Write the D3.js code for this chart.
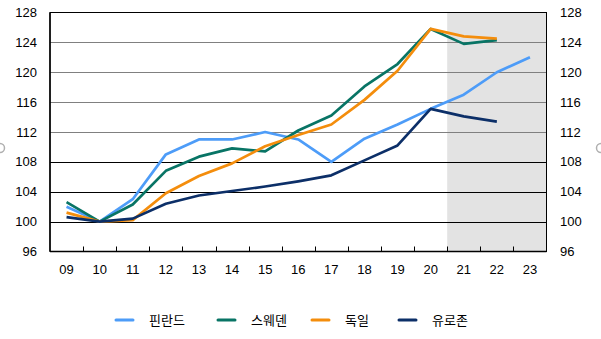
<!DOCTYPE html>
<html><head><meta charset="utf-8">
<script src="https://cdn.jsdelivr.net/npm/d3@7"></script>
<style>body{margin:0;background:#fff;}svg{display:block;}</style>
</head><body>
<svg id="c" width="601" height="339"></svg>
<script>
const categories = ["09","10","11","12","13","14","15","16","17","18","19","20","21","22","23"];
const finland  = [102.0,100,103.0,109.0,111.0,111.0,112.0,111.0,108.0,111.1,113.0,115.1,117.0,120.0,122.0];
const sweden   = [102.6,100,102.3,106.8,108.7,109.8,109.4,112.2,114.2,118.1,121.1,125.8,123.8,124.3,null];
const germany  = [101.2,100,100.2,103.8,106.1,107.8,110.1,111.6,113.0,116.3,120.2,125.8,124.8,124.5,null];
const eurozone = [100.6,100,100.4,102.4,103.5,104.1,104.7,105.4,106.2,108.2,110.2,115.1,114.1,113.4,null];
const yTicks = [96,100,104,108,112,116,120,124,128];
const seriesNames = ["핀란드","스웨덴","독일","유로존"];
const seriesColors = ["#4d9cf8","#087465","#f48d0c","#0c2f68"];
const seriesData = [finland, sweden, germany, eurozone];
const shadedFrom = "21";

const svg = d3.select("#c");
const L=50, R=546.5, T=12.5, B=251.5;
const x = d3.scaleBand().domain(categories).range([L,R]);
const y = d3.scaleLinear().domain([96,128]).range([B,T]);
const font = "'Liberation Sans', Arial, sans-serif";

// shaded forecast area
svg.append("rect").attr("x", x(shadedFrom)).attr("y", T)
  .attr("width", R - x(shadedFrom)).attr("height", B-T).attr("fill","#e3e3e3");

// grid lines
yTicks.filter(v=>v>96 && v<128).forEach(v=>{
  svg.append("line").attr("x1",L).attr("x2",R).attr("y1",Math.round(y(v))+0.5).attr("y2",Math.round(y(v))+0.5)
    .attr("stroke", v>=112 ? "#808080" : "#000").attr("stroke-width",1);
});

// frame
svg.append("rect").attr("x",L).attr("y",T).attr("width",R-L).attr("height",B-T)
  .attr("fill","none").attr("stroke","#000").attr("stroke-width",1);
svg.append("line").attr("x1",L).attr("x2",L).attr("y1",T).attr("y2",B).attr("stroke","#000").attr("stroke-width",1.5);
svg.append("line").attr("x1",L).attr("x2",R).attr("y1",B).attr("y2",B).attr("stroke","#000").attr("stroke-width",1.5);

// x ticks (at category boundaries, pointing up)
categories.slice(1).forEach(c=>{
  const xx = Math.round(x(c))+0.5;
  svg.append("line").attr("x1",xx).attr("x2",xx).attr("y1",B).attr("y2",B-5).attr("stroke","#000");
});

// x labels
categories.forEach(c=>{
  svg.append("text").attr("x", x(c)+x.bandwidth()/2).attr("y", 274)
    .attr("text-anchor","middle").attr("font-family",font).attr("font-size",13).attr("fill","#000").text(c);
});

// y labels left and right
yTicks.forEach(v=>{
  svg.append("text").attr("x",37).attr("y",y(v)+4.5).attr("text-anchor","end")
    .attr("font-family",font).attr("font-size",13).attr("fill","#000").text(v);
  svg.append("text").attr("x",560).attr("y",y(v)+4.5).attr("text-anchor","start")
    .attr("font-family",font).attr("font-size",13).attr("fill","#000").text(v);
});

// lines
const line = d3.line().defined(d=>d.v!=null).x(d=>x(d.c)+x.bandwidth()/2).y(d=>y(d.v));
seriesData.forEach((s,i)=>{
  svg.append("path").datum(categories.map((c,j)=>({c, v:s[j]})))
    .attr("d", line).attr("fill","none").attr("stroke",seriesColors[i])
    .attr("stroke-width",2.7).attr("stroke-linejoin","round").attr("stroke-linecap","butt");
});

// legend
const legX = [116, 218, 312, 399];
seriesNames.forEach((n,i)=>{
  svg.append("line").attr("x1",legX[i]).attr("x2",legX[i]+17).attr("y1",320).attr("y2",320)
    .attr("stroke",seriesColors[i]).attr("stroke-width",3).attr("stroke-linecap","round");
  svg.append("text").attr("x",legX[i]+33).attr("y",325).attr("font-family","'Noto Sans CJK KR', sans-serif")
    .attr("font-size",13).attr("fill","#000").text(n);
});

// edge handles
svg.append("circle").attr("cx",0).attr("cy",148).attr("r",4.5).attr("fill","none").attr("stroke","#b0b0b0").attr("stroke-width",1.5);
svg.append("circle").attr("cx",601).attr("cy",148).attr("r",4.5).attr("fill","none").attr("stroke","#b0b0b0").attr("stroke-width",1.5);
</script>
</body></html>
